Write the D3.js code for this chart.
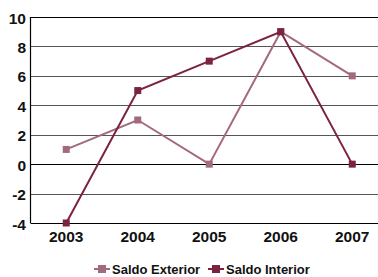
<!DOCTYPE html>
<html>
<head>
<meta charset="utf-8">
<script src="https://cdn.jsdelivr.net/npm/d3@7"></script>
<style>
  body { margin: 0; background: #fff; }
  svg { display: block; font-family: "Liberation Sans", Arial, sans-serif; }
</style>
</head>
<body>
<div id="chart"></div>
<script>
// Data
const years = ['2003', '2004', '2005', '2006', '2007'];
const saldoExterior = [1, 3, 0, 9, 6];
const saldoInterior = [-4, 5, 7, 9, 0];
const yTicks = [-4, -2, 0, 2, 4, 6, 8, 10];

const series = [
  { name: 'Saldo Exterior', values: saldoExterior, color: '#a36a7b' },
  { name: 'Saldo Interior', values: saldoInterior, color: '#7b2340' }
];

const width = 378, height = 277;
const margin = { top: 17, left: 30.5, bottom: 54 };
const step = 71.5;

const svg = d3.select('#chart')
  .append('svg')
  .attr('width', width)
  .attr('height', height);

// x: band per year, plot runs past the right edge like the original
const x = d3.scaleBand()
  .domain(years)
  .range([margin.left, margin.left + step * years.length]);

const y = d3.scaleLinear()
  .domain([-4, 10])
  .range([height - margin.bottom, margin.top]);

// Gridlines
svg.append('g')
  .selectAll('line')
  .data(yTicks)
  .enter()
  .append('line')
  .attr('x1', margin.left)
  .attr('x2', width)
  .attr('y1', d => Math.round(y(d)) + 0.5)
  .attr('y2', d => Math.round(y(d)) + 0.5)
  .attr('stroke', d => (d === 0 || d === 10 || d === -4) ? '#000' : '#555')
  .attr('stroke-width', 1.2);

// Left axis line
svg.append('line')
  .attr('x1', margin.left)
  .attr('x2', margin.left)
  .attr('y1', y(10))
  .attr('y2', y(-4))
  .attr('stroke', '#000')
  .attr('stroke-width', 1.2);

// Y tick labels
svg.append('g')
  .selectAll('text')
  .data(yTicks)
  .enter()
  .append('text')
  .attr('x', 26)
  .attr('y', d => y(d) + 1)
  .attr('dy', '0.36em')
  .attr('text-anchor', 'end')
  .attr('font-size', '15.5px')
  .attr('font-weight', 'bold')
  .attr('fill', '#111')
  .text(d => d);

// X tick labels
svg.append('g')
  .selectAll('text')
  .data(years)
  .enter()
  .append('text')
  .attr('x', d => x(d) + x.bandwidth() / 2)
  .attr('y', 242)
  .attr('text-anchor', 'middle')
  .attr('font-size', '15.5px')
  .attr('font-weight', 'bold')
  .attr('fill', '#111')
  .text(d => d);

// Lines + markers
const line = d3.line()
  .x((d, i) => x(years[i]) + x.bandwidth() / 2)
  .y(d => y(d));

series.forEach(s => {
  svg.append('path')
    .datum(s.values)
    .attr('fill', 'none')
    .attr('stroke', s.color)
    .attr('stroke-width', 2)
    .attr('d', line);

  svg.append('g')
    .selectAll('rect')
    .data(s.values)
    .enter()
    .append('rect')
    .attr('x', (d, i) => x(years[i]) + x.bandwidth() / 2 - 3.5)
    .attr('y', d => y(d) - 3.5)
    .attr('width', 7)
    .attr('height', 7)
    .attr('fill', s.color);
});

// Legend
const legendX = [94, 208];
const legend = svg.append('g')
  .selectAll('g')
  .data(series)
  .enter()
  .append('g')
  .attr('transform', (d, i) => `translate(${legendX[i]},269)`);

legend.append('line')
  .attr('x1', 0)
  .attr('x2', 16)
  .attr('stroke', d => d.color)
  .attr('stroke-width', 2);

legend.append('rect')
  .attr('x', 4)
  .attr('y', -4)
  .attr('width', 8)
  .attr('height', 8)
  .attr('fill', d => d.color);

legend.append('text')
  .attr('x', 18)
  .attr('dy', '0.36em')
  .attr('font-size', '13px')
  .attr('font-weight', 'bold')
  .attr('fill', '#111')
  .text(d => d.name);
</script>
</body>
</html>
